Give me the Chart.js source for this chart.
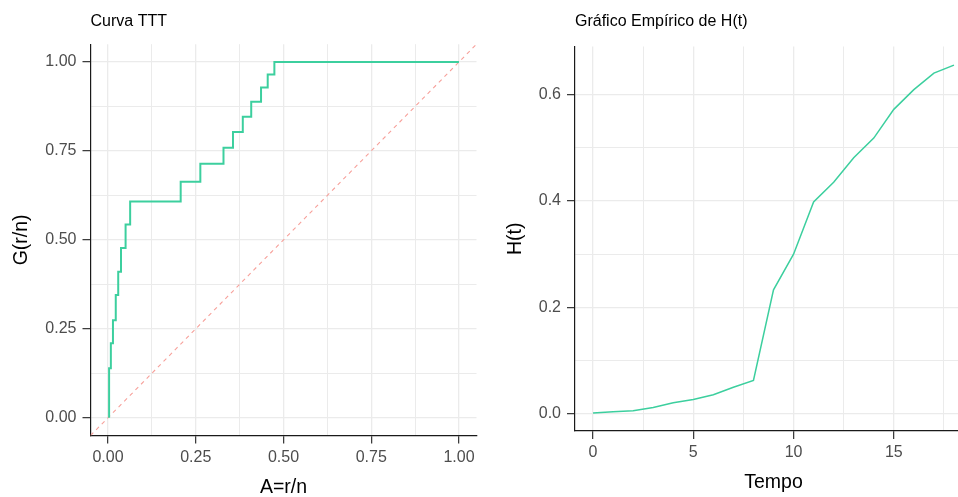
<!DOCTYPE html>
<html>
<head>
<meta charset="utf-8">
<script src="https://cdn.jsdelivr.net/npm/chart.js@4.4.1/dist/chart.umd.min.js"></script>
<style>
  html, body { margin: 0; padding: 0; background: #fff; overflow: hidden; }
  #wrap { position: relative; width: 958px; height: 497px; overflow: hidden; }
  .panel { position: absolute; top: 0; }
</style>
</head>
<body>
<div id="wrap">
  <div class="panel" style="left:0"><canvas id="tttChart" width="479" height="497"></canvas></div>
  <div class="panel" style="left:480px"><canvas id="hazardChart" width="492" height="497"></canvas></div>
</div>
<script>
// TTT curve: A = r/n and G(r/n), one point per step
const tttA = [0.003, 0.003, 0.008, 0.014, 0.022, 0.029, 0.037, 0.050, 0.063, 0.207, 0.263, 0.329, 0.356, 0.384, 0.408, 0.436, 0.455, 0.474, 1.000];
const tttG = [0.000, 0.139, 0.209, 0.274, 0.345, 0.410, 0.477, 0.543, 0.608, 0.663, 0.714, 0.759, 0.803, 0.846, 0.888, 0.928, 0.965, 1.000, 1.000];

// Empirical cumulative hazard H(t)
const tempo = [0, 1, 2, 3, 4, 5, 6, 7, 8, 9, 10, 11, 12, 13, 14, 15, 16, 17, 18];
const hazard = [0.002, 0.004, 0.006, 0.012, 0.021, 0.027, 0.036, 0.050, 0.063, 0.233, 0.300, 0.398, 0.435, 0.481, 0.518, 0.572, 0.609, 0.640, 0.655];

// Tick values and labels
const tttTicks = [0, 0.25, 0.5, 0.75, 1];
const tttTickLabels = ["0.00", "0.25", "0.50", "0.75", "1.00"];
const tempoTicks = [0, 5, 10, 15];
const tempoTickLabels = ["0", "5", "10", "15"];
const hazardTicks = [0, 0.2, 0.4, 0.6];
const hazardTickLabels = ["0.0", "0.2", "0.4", "0.6"];
const hazardLimits = [-0.032, 0.69];

const FONT = "'Liberation Sans', Arial, sans-serif";
const GREEN = "#3ccf9e";
const GRID = "#ebebeb";
const INK = "#4d4d4d";

// ggplot-style 5% expansion of the data range
function expand(values) {
  const lo = Math.min(...values), hi = Math.max(...values);
  const pad = (hi - lo) * 0.05;
  return [lo - pad, hi + pad];
}

// major ticks plus the minor gridlines halfway between them
function gridTicks(major, min, max) {
  const half = (major[1] - major[0]) / 2;
  const out = [];
  for (let i = -1; ; i++) {
    const v = +(major[0] + i * half).toFixed(6);
    if (v > max + 1e-9) break;
    if (v >= min - 1e-9) out.push(v);
  }
  return out;
}

function makeScale({ range, major, labels, title, side, size, titlePadding }) {
  const ticks = gridTicks(major, range[0], range[1]);
  const majorIndex = v => major.findIndex(m => Math.abs(m - v) < 1e-9);
  const isMajor = c => c.tick && majorIndex(c.tick.value) >= 0;
  return {
    type: "linear",
    position: side === "x" ? "bottom" : "left",
    min: range[0],
    max: range[1],
    bounds: "data",
    afterBuildTicks: s => { s.ticks = ticks.map(value => ({ value })); },
    afterFit: s => { if (side === "x") s.height = size; else s.width = size; },
    ticks: {
      autoSkip: false,
      maxRotation: 0,
      padding: side === "x" ? 4 : 6,
      color: INK,
      font: { family: FONT, size: 16 },
      callback: v => {
        const i = majorIndex(v);
        return i < 0 ? "" : labels[i];
      }
    },
    grid: {
      color: GRID,
      lineWidth: c => isMajor(c) ? 1.3 : 1,
      tickColor: c => isMajor(c) ? "#333" : "rgba(0,0,0,0)",
      tickLength: 8,
      tickWidth: 1.2
    },
    border: { display: true, color: "#1a1a1a", width: 1.2 },
    title: {
      display: true,
      text: title,
      color: "#000",
      font: { family: FONT, size: 19.5, lineHeight: side === "x" ? 1 : 1.2 },
      padding: titlePadding
    }
  };
}

function plotTitle(text, bottomPad) {
  return {
    display: true,
    text,
    align: "start",
    fullSize: false,
    color: "#000",
    font: { family: FONT, size: 16, weight: "normal", lineHeight: 1.2 },
    padding: { top: 12, bottom: bottomPad }
  };
}

const baseOptions = {
  responsive: false,
  animation: false,
  devicePixelRatio: 1,
  events: []
};

// TTT curve
const tttRange = expand(tttA.concat([0]));
new Chart(document.getElementById("tttChart"), {
  type: "scatter",
  data: {
    datasets: [
      {
        data: tttA.map((x, i) => ({ x, y: tttG[i] })),
        showLine: true,
        stepped: true,
        borderColor: GREEN,
        borderWidth: 2,
        pointRadius: 0
      },
      {
        // reference line G = A
        data: tttRange.map(v => ({ x: v, y: v })),
        showLine: true,
        borderColor: "#f7a09a",
        borderWidth: 1.1,
        borderDash: [4, 4],
        pointRadius: 0
      }
    ]
  },
  options: {
    ...baseOptions,
    layout: { padding: { left: 0, right: 2.5, top: 0, bottom: 0 } },
    plugins: {
      legend: { display: false },
      tooltip: { enabled: false },
      title: plotTitle("Curva TTT", 13)
    },
    scales: {
      x: makeScale({ range: tttRange, major: tttTicks, labels: tttTickLabels, title: "A=r/n", side: "x", size: 61.5, titlePadding: { top: 0, bottom: 0 } }),
      y: makeScale({ range: tttRange, major: tttTicks, labels: tttTickLabels, title: "G(r/n)", side: "y", size: 90.5, titlePadding: { top: 10, bottom: 0 } })
    }
  }
});

// Empirical H(t)
new Chart(document.getElementById("hazardChart"), {
  type: "scatter",
  data: {
    datasets: [
      {
        data: tempo.map((x, i) => ({ x, y: hazard[i] })),
        showLine: true,
        tension: 0,
        borderColor: GREEN,
        borderWidth: 1.5,
        pointRadius: 0
      }
    ]
  },
  options: {
    ...baseOptions,
    layout: { padding: 0 },
    plugins: {
      legend: { display: false },
      tooltip: { enabled: false },
      title: plotTitle("Gráfico Empírico de H(t)", 15.3)
    },
    scales: {
      x: makeScale({ range: expand(tempo), major: tempoTicks, labels: tempoTickLabels, title: "Tempo", side: "x", size: 66, titlePadding: { top: 0, bottom: 4.25 } }),
      y: makeScale({ range: hazardLimits, major: hazardTicks, labels: hazardTickLabels, title: "H(t)", side: "y", size: 95, titlePadding: { top: 24.3, bottom: 0 } })
    }
  }
});
</script>
</body>
</html>
